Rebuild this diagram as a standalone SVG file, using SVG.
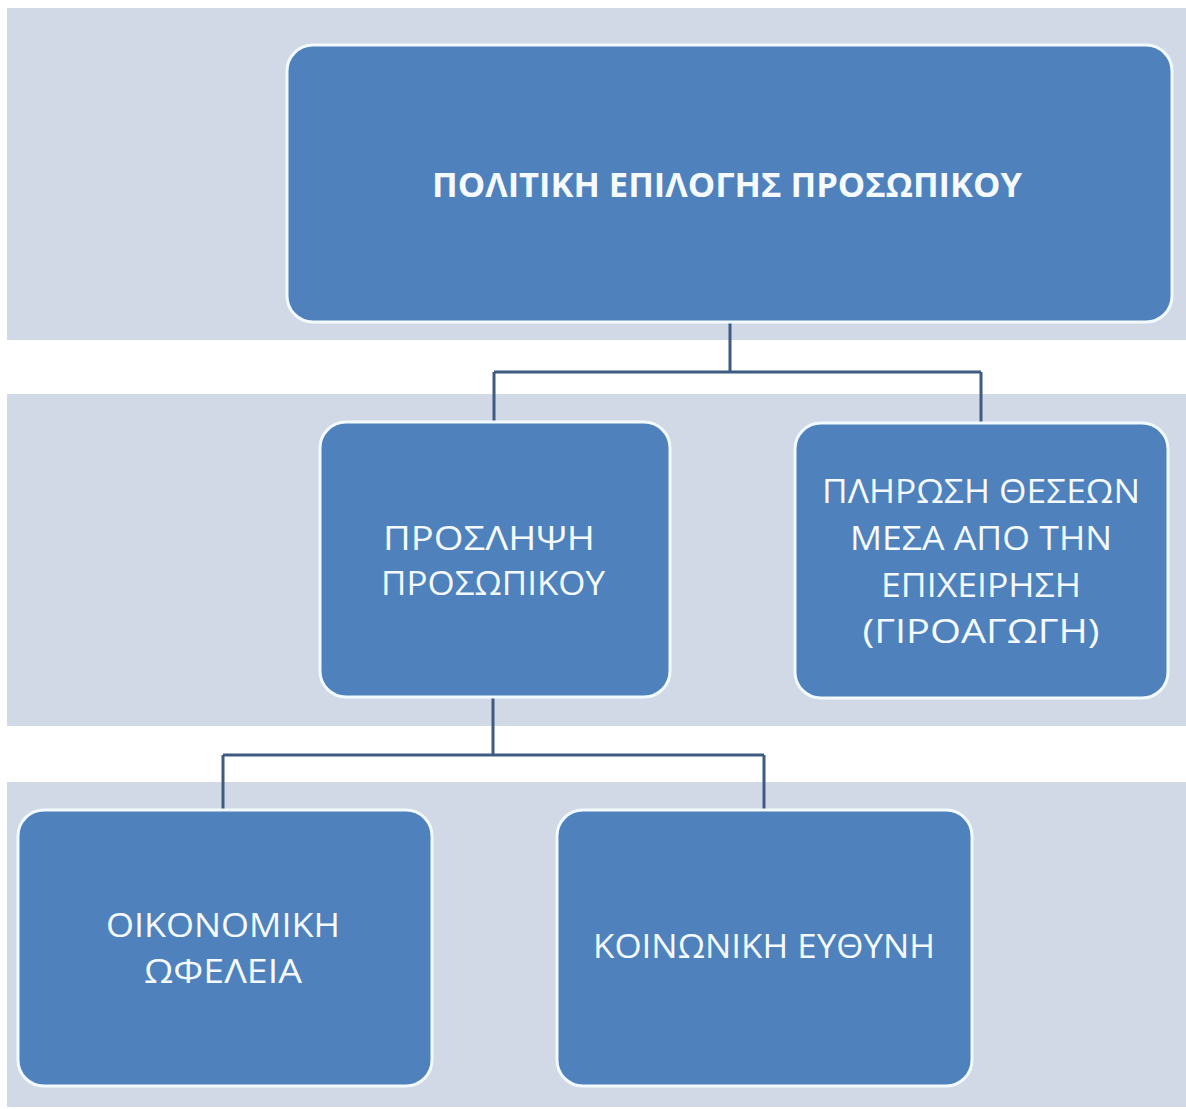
<svg xmlns="http://www.w3.org/2000/svg" width="1186" height="1109" viewBox="0 0 1186 1109">
<style>
.band{fill:#D1D9E6}
.box{fill:#4F81BD;stroke:#F2FAFF;stroke-width:3}
.t{font-family:"Open Sans","Liberation Sans",sans-serif;font-size:33px;fill:#F4FAFF;text-anchor:middle}
.tb{font-weight:bold;font-size:34px}
.conn{fill:none;stroke:#3F5B82;stroke-width:3}
</style>
<rect width="1186" height="1109" fill="#FFFFFF"/>
<g id="bands">
<rect class="band" x="7" y="8" width="1179" height="332"/>
<rect class="band" x="7" y="394" width="1179" height="332"/>
<rect class="band" x="7" y="782" width="1179" height="325"/>
</g>
<g id="connectors">
<path class="conn" d="M730 322 V372 M494 372 H981 M494 372 V422 M981 372 V423"/>
<path class="conn" d="M493 697 V755 M223 755 H764 M223 755 V810 M764 755 V810"/>
</g>
<g id="node-root">
<rect class="box" x="287" y="45" width="885" height="277" rx="26"/>
<text class="t tb" x="727" y="197" textLength="590" lengthAdjust="spacingAndGlyphs">ΠΟΛΙΤΙΚΗ ΕΠΙΛΟΓΗΣ ΠΡΟΣΩΠΙΚΟΥ</text>
</g>
<g id="node-proslipsi">
<rect class="box" x="320" y="422" width="350" height="275" rx="26"/>
<text class="t" x="489" y="550" textLength="212" lengthAdjust="spacingAndGlyphs">ΠΡΟΣΛΗΨΗ</text>
<text class="t" x="493" y="595" textLength="224" lengthAdjust="spacingAndGlyphs">ΠΡΟΣΩΠΙΚΟΥ</text>
</g>
<g id="node-plirosi">
<rect class="box" x="795" y="423" width="373" height="275" rx="26"/>
<text class="t" x="981" y="503" textLength="318" lengthAdjust="spacingAndGlyphs">ΠΛΗΡΩΣΗ ΘΕΣΕΩΝ</text>
<text class="t" x="981" y="550" textLength="262" lengthAdjust="spacingAndGlyphs">ΜΕΣΑ ΑΠΟ ΤΗΝ</text>
<text class="t" x="981" y="597" textLength="200" lengthAdjust="spacingAndGlyphs">ΕΠΙΧΕΙΡΗΣΗ</text>
<text class="t" x="981" y="643" textLength="237" lengthAdjust="spacingAndGlyphs">(ΓΙΡΟΑΓΩΓΗ)</text>
</g>
<g id="node-oikonomiki">
<rect class="box" x="18" y="810" width="414" height="276" rx="26"/>
<text class="t" x="223" y="937" textLength="234" lengthAdjust="spacingAndGlyphs">ΟΙΚΟΝΟΜΙΚΗ</text>
<text class="t" x="223" y="983" textLength="158" lengthAdjust="spacingAndGlyphs">ΩΦΕΛΕΙΑ</text>
</g>
<g id="node-koinoniki">
<rect class="box" x="557" y="810" width="415" height="276" rx="26"/>
<text class="t" x="764" y="958" textLength="342" lengthAdjust="spacingAndGlyphs">ΚΟΙΝΩΝΙΚΗ ΕΥΘΥΝΗ</text>
</g>
</svg>
